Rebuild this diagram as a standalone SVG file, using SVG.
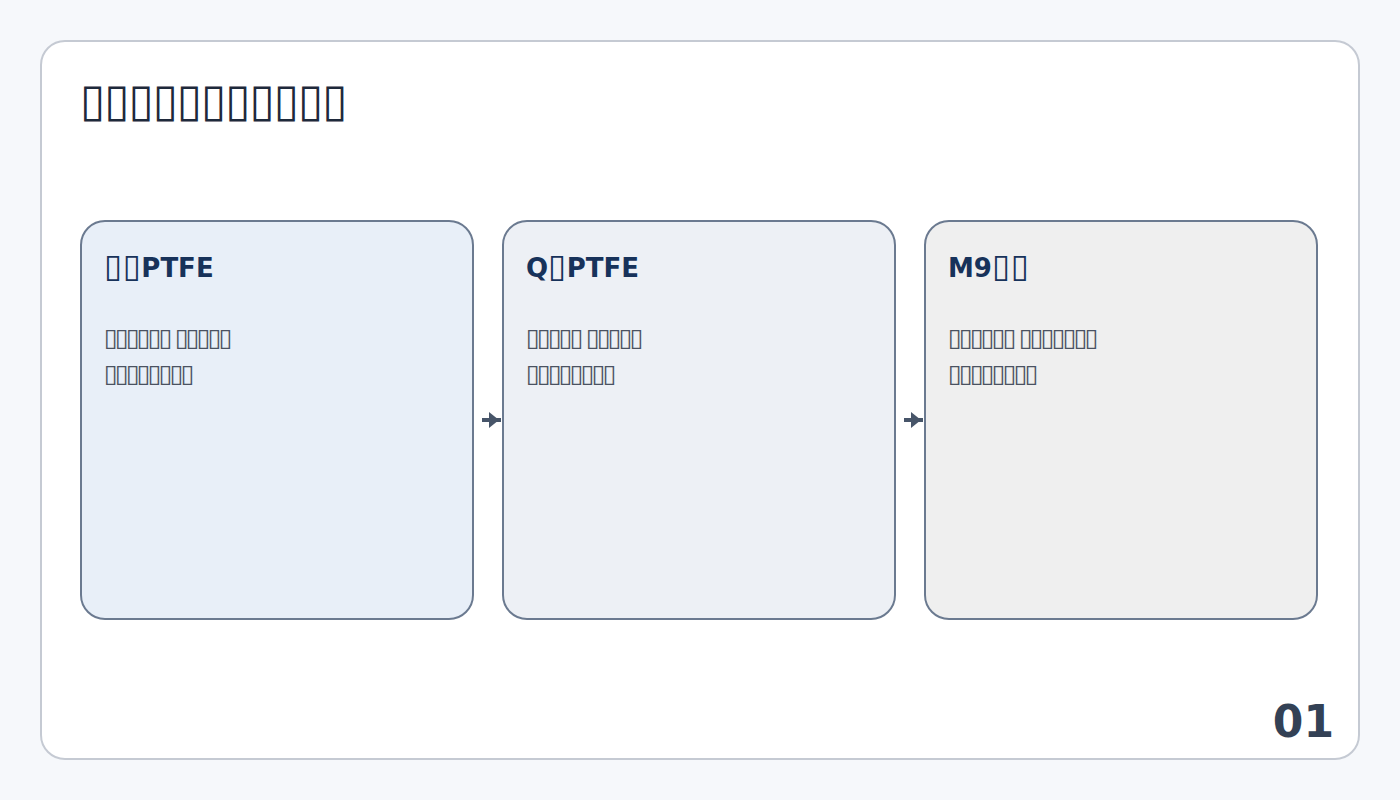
<svg xmlns="http://www.w3.org/2000/svg" width="1400" height="800" viewBox="0 0 1400 800">
<style>
text{font-family:"DejaVu Sans","Liberation Sans",sans-serif}
.title{font-size:46px;letter-spacing:-1.1px;fill:#1e293b}
.card{stroke:#6b7a90;stroke-width:2}
.head{font-size:26px;font-weight:bold;fill:#17325a}
.tf{font-size:33px;letter-spacing:0.5px}
.body{font-size:25px;letter-spacing:-2.8px;fill:#4a5261}
.conn{stroke:#475569;stroke-width:4}
.head-tri{fill:#475569}
.num{font-size:44px;font-weight:bold;fill:#334155}
</style>
<rect x="0" y="0" width="1400" height="800" fill="#f6f8fb"/>
<rect x="41" y="41" width="1318" height="718" rx="24" fill="#ffffff" stroke="#c5cad3" stroke-width="2"/>
<text class="title" x="80" y="116">▯▯▯▯▯▯▯▯▯▯▯</text>
<g id="node-1">
<rect class="card" x="81" y="221" width="392" height="398" rx="24" fill="#e8eff8"/>
<text class="head" x="104" y="277"><tspan class="tf">▯▯</tspan>PTFE</text>
<text class="body" x="104" y="345.5">▯▯▯▯▯▯ ▯▯▯▯▯</text>
<text class="body" x="104" y="381.5">▯▯▯▯▯▯▯▯</text>
</g>
<g id="node-2">
<rect class="card" x="503" y="221" width="392" height="398" rx="24" fill="#edf0f5"/>
<text class="head" x="526" y="277">Q<tspan class="tf">▯</tspan>PTFE</text>
<text class="body" x="526" y="345.5">▯▯▯▯▯ ▯▯▯▯▯</text>
<text class="body" x="526" y="381.5">▯▯▯▯▯▯▯▯</text>
</g>
<g id="node-3">
<rect class="card" x="925" y="221" width="392" height="398" rx="24" fill="#efefef"/>
<text class="head" x="948" y="277">M9<tspan class="tf">▯▯</tspan></text>
<text class="body" x="948" y="345.5">▯▯▯▯▯▯ ▯▯▯▯▯▯▯</text>
<text class="body" x="948" y="381.5">▯▯▯▯▯▯▯▯</text>
</g>
<g id="connectors">
<line class="conn" x1="482" y1="420" x2="501" y2="420"/>
<polygon class="head-tri" points="489,412 499,420 489,428"/>
<line class="conn" x1="904" y1="420" x2="923" y2="420"/>
<polygon class="head-tri" points="911,412 921,420 911,428"/>
</g>
<text class="num" x="1334" y="737" text-anchor="end">01</text>
</svg>
